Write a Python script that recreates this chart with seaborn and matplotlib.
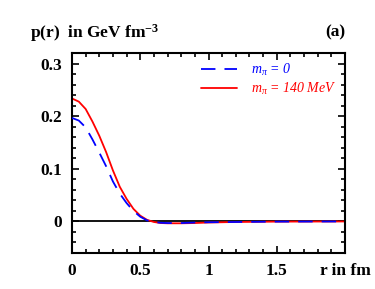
import matplotlib
matplotlib.use("Agg")
import matplotlib.pyplot as plt
import seaborn as sns
import pandas as pd
from matplotlib.ticker import MultipleLocator

sns.set_theme(style="ticks")
plt.rcParams['font.family'] = ['Liberation Serif', 'DejaVu Serif']
plt.rcParams['text.color'] = 'black'
plt.rcParams['axes.labelcolor'] = 'black'
plt.rcParams['xtick.color'] = 'black'
plt.rcParams['ytick.color'] = 'black'
plt.rcParams['mathtext.fontset'] = 'custom'
plt.rcParams['mathtext.rm'] = 'Liberation Serif'
plt.rcParams['mathtext.it'] = 'Liberation Serif:italic'
plt.rcParams['mathtext.bf'] = 'Liberation Serif:bold'

r = [0.0, 0.05, 0.1, 0.15, 0.2, 0.25, 0.3, 0.35, 0.4, 0.45, 0.5, 0.55, 0.6,
     0.65, 0.7, 0.8, 0.9, 1.0, 1.2, 1.5, 2.0]
p_m0 = [0.197, 0.192, 0.179, 0.156, 0.131, 0.105, 0.076, 0.053, 0.035, 0.020,
        0.009, 0.002, -0.001, -0.0025, -0.003, -0.003, -0.002, -0.0015, -0.001,
        -0.0003, 0.0]
p_m140 = [0.234, 0.228, 0.214, 0.190, 0.163, 0.132, 0.097, 0.066, 0.043, 0.024,
          0.011, 0.003, -0.001, -0.003, -0.0035, -0.0035, -0.003, -0.002, -0.001,
          -0.0003, 0.0]
series_labels = [r"$m_\pi$ = 0", r"$m_\pi$ = 140 MeV"]
xtick_vals = [0, 0.5, 1, 1.5, 2]
xtick_labels = ["0", "0.5", "1", "1.5", "r in fm"]
ytick_vals = [0, 0.1, 0.2, 0.3]
ytick_labels = ["0", "0.1", "0.2", "0.3"]

df = pd.DataFrame({"r": r + r,
                   "p": p_m0 + p_m140,
                   "series": [series_labels[0]] * len(r) + [series_labels[1]] * len(r)})

fig = plt.figure(figsize=(3.75, 2.89), dpi=100)
ax = fig.add_axes([0.192, 0.1246, 0.728, 0.691])

ax.axhline(0, color="black", lw=1.3, zorder=1)
sns.lineplot(data=df[df.series == series_labels[0]], x="r", y="p", ax=ax,
             color="#0000ff", lw=1.3, linestyle=(0, (8, 5)),
             label=series_labels[0], zorder=3)
sns.lineplot(data=df[df.series == series_labels[1]], x="r", y="p", ax=ax,
             color="#ff0000", lw=1.3, label=series_labels[1], zorder=2)

ax.set_xlim(0, 2.0)
ax.set_ylim(-0.06, 0.32)
ax.set_xticks(xtick_vals)
ax.set_xticklabels(xtick_labels)
ax.set_yticks(ytick_vals)
ax.set_yticklabels(ytick_labels)
ax.xaxis.set_minor_locator(MultipleLocator(0.1))
ax.yaxis.set_minor_locator(MultipleLocator(0.02))
ax.tick_params(which="both", direction="in", top=True, right=True, width=1.2,
               colors="black")
ax.tick_params(which="major", length=5, labelsize=12.5, pad=7)
ax.tick_params(which="minor", length=3)
for lab in ax.get_xticklabels() + ax.get_yticklabels():
    lab.set_fontweight("bold")
for s in ax.spines.values():
    s.set_linewidth(1.5)
    s.set_color("black")
ax.set_xlabel("")
ax.set_ylabel("")

leg = ax.legend(loc="upper right", bbox_to_anchor=(1.0, 1.0), frameon=False,
                fontsize=10, handlelength=2.6, handletextpad=1.0,
                labelspacing=0.2, borderaxespad=0.2)
for txt, line in zip(leg.get_texts(), leg.get_lines()):
    txt.set_color(line.get_color())
    txt.set_fontstyle("italic")

fig.text(30 / 375, 1 - 38 / 289, r"p(r)  in GeV fm$^{\mathbf{-3}}$",
         fontsize=12.5, fontweight="bold", ha="left", va="baseline",
         color="black")
fig.text(345 / 375, 1 - 36 / 289, "(a)", fontsize=12.5, fontweight="bold",
         ha="right", va="baseline", color="black")

fig.savefig("out.png", dpi=100)
